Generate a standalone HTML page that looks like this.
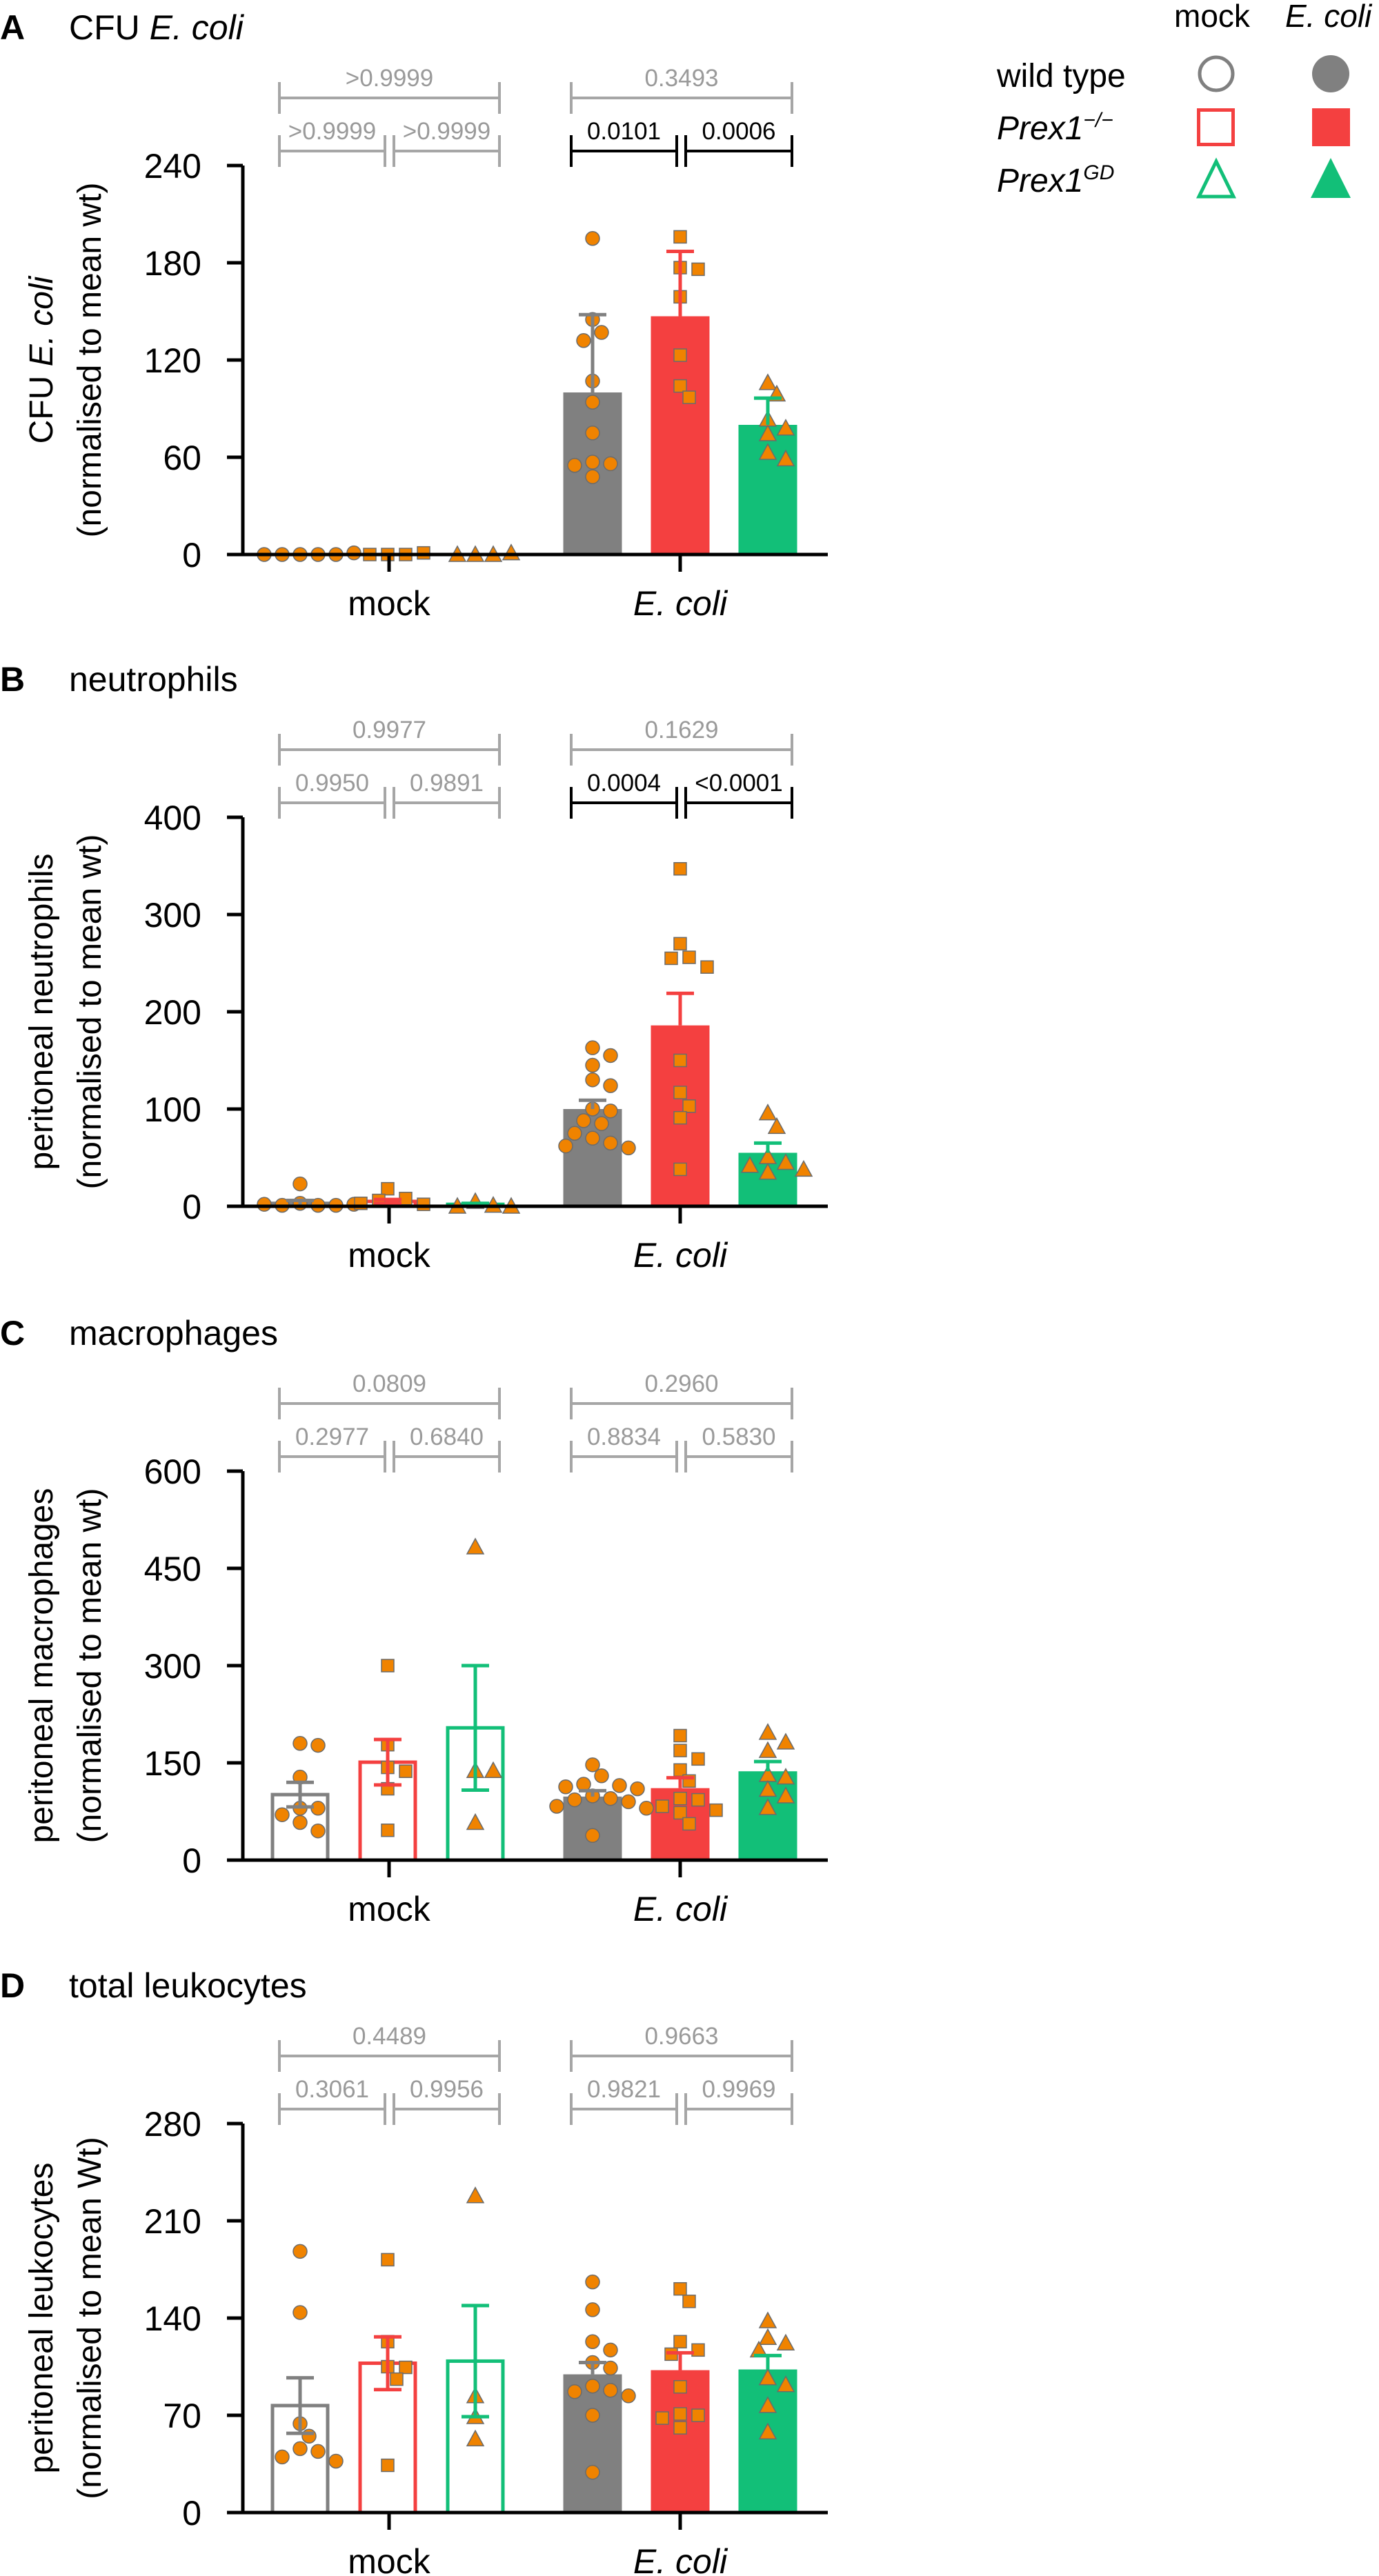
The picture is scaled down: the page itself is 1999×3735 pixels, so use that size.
<!DOCTYPE html>
<html><head><meta charset="utf-8"><style>
html,body{margin:0;padding:0;background:#fff}
svg{display:block;font-family:"Liberation Sans",sans-serif}
</style></head><body>
<svg id="fig" width="1999" height="3735" viewBox="0 0 1999 3735">
<g>
<text x="1702" y="39" font-size="46">mock</text>
<text x="1863" y="39" font-size="46" font-style="italic">E. coli</text>
<text x="1445" y="126" font-size="48">wild type</text>
<text x="1445" y="202" font-size="48" font-style="italic">Prex1<tspan dy="-18" font-size="30">−/−</tspan></text>
<text x="1445" y="278" font-size="48" font-style="italic">Prex1<tspan dy="-18" font-size="30">GD</tspan></text>
<circle cx="1763" cy="107" r="24" fill="#fff" stroke="#808080" stroke-width="5"/>
<circle cx="1929" cy="107" r="27" fill="#808080"/>
<rect x="1737.5" y="159.5" width="50" height="50" fill="#fff" stroke="#f44040" stroke-width="5"/>
<rect x="1902" y="157" width="55" height="55" fill="#f44040"/>
<polygon points="1763,234 1738,285 1788,285" fill="#fff" stroke="#12bf78" stroke-width="5"/>
<polygon points="1929,229 1900,287 1958,287" fill="#12bf78"/>
</g>
</svg>
<script>
// ---- data ----
const groupLabels = ['mock', 'E. coli'];
const genotypes = ['wild type', 'Prex1-/-', 'Prex1GD'];

const cfuTicks = [0, 60, 120, 180, 240];
const cfuMeans = [0, 0, 0, 100, 147, 80];
const cfuSem = [0, 0, 0, 48, 40, 16.5];
const cfuPoints = [
  [0, 0, 0, 0, 0, 1],
  [0, 0, 0, 1],
  [0, 0, 0, 1],
  [195, 145, 137, 132, 107, 94, 75, 57, 56, 55, 48],
  [196, 177, 176, 159, 123, 104, 97],
  [106, 99, 83.5, 78, 74.5, 63, 59]
];
const cfuP = ['>0.9999', '>0.9999', '>0.9999', '0.3493', '0.0101', '0.0006'];

const neuTicks = [0, 100, 200, 300, 400];
const neuMeans = [3, 5, 2, 100, 186, 55];
const neuSem = [3, 2, 1, 9, 33, 10];
const neuPoints = [
  [23, 3, 1, 1, 1, 2, 2],
  [18, 8, 6, 3, 2],
  [5, 1, 0, 0],
  [163, 155, 145, 130, 124, 100, 98, 88, 85, 75, 70, 65, 62, 60],
  [347, 270, 256, 255, 246, 150, 117, 103, 91, 38],
  [96, 82, 51, 45, 42, 38, 35]
];
const neuP = ['0.9977', '0.9950', '0.9891', '0.1629', '0.0004', '<0.0001'];

const macTicks = [0, 150, 300, 450, 600];
const macMeans = [101, 151, 204, 98, 111, 137];
const macSem = [19, 35, 96, 9, 16, 15];
const macPoints = [
  [180, 177, 128, 80, 80, 70, 58, 45],
  [300, 178, 143, 137, 110, 46],
  [483, 138, 138, 58],
  [147, 130, 117, 115, 113, 110, 99, 95, 93, 90, 83, 80, 38],
  [192, 169, 156, 139, 122, 95, 93, 83, 77, 73, 56],
  [197, 182, 169, 132, 128, 109, 99, 81]
];
const macP = ['0.0809', '0.2977', '0.6840', '0.2960', '0.8834', '0.5830'];

const leuTicks = [0, 70, 140, 210, 280];
const leuMeans = [77, 107.5, 109, 99.5, 102.5, 103];
const leuSem = [20, 19, 40, 8.5, 12.5, 10];
const leuPoints = [
  [188, 144, 64, 55, 46, 44, 40, 37],
  [182, 123, 105, 104.5, 96, 34],
  [228, 84, 69, 53],
  [166, 146, 123, 117, 108, 104, 91, 88, 87, 84, 70, 29],
  [161, 152, 123, 117, 114, 90.5, 71, 70, 68, 61],
  [138, 126, 122, 117, 97, 92, 77, 58]
];
const leuP = ['0.4489', '0.3061', '0.9956', '0.9663', '0.9821', '0.9969'];

// ---- drawing ----
const NS = 'http://www.w3.org/2000/svg';
const svg = document.getElementById('fig');
const colors = ['#808080', '#f44040', '#12bf78'];
const GREY = '#a6a6a6';
const centers = [435, 562, 689, 859, 986, 1113];
const groupCenters = [564, 986];
const BW = 85;
const AX = 352;
const PH = 564;

function mk(tag, attrs, parent) {
  const e = document.createElementNS(NS, tag);
  for (const k in attrs) e.setAttribute(k, attrs[k]);
  parent.appendChild(e);
  return e;
}

function marker(shape, x, y, parent) {
  let e;
  if (shape === 0) e = mk('circle', {cx: x, cy: y, r: 10}, parent);
  else if (shape === 1) e = mk('rect', {x: x - 9, y: y - 9, width: 18, height: 18}, parent);
  else e = mk('polygon', {points: `${x},${y - 12} ${x - 12},${y + 10} ${x + 12},${y + 10}`}, parent);
  e.setAttribute('fill', '#f08300');
  e.setAttribute('stroke', '#6b6b6b');
  e.setAttribute('stroke-width', '1.5');
  
  
}

function drawPanel(cfg) {
  const top = cfg.top, zero = top + PH;
  const maxV = cfg.ticks[cfg.ticks.length - 1];
  const y = v => zero - v / maxV * PH;
  const g = mk('g', {}, svg);
  
  

  // title
  const t = mk('text', {x: 0, y: top - 183, 'font-size': 50}, g);
  
  
  const tl = mk('tspan', {'font-weight': 'bold'}, t); tl.textContent = cfg.letter;
  const tt = mk('tspan', {x: 100}, t); tt.textContent = cfg.title;
  if (cfg.titleItalic) { const ti = mk('tspan', {'font-style': 'italic'}, t); ti.textContent = cfg.titleItalic; }

  // y label
  const cy = top + PH / 2;
  const l1 = mk('text', {x: 76, y: cy, transform: `rotate(-90 76 ${cy})`, 'text-anchor': 'middle', 'font-size': 48}, g);
  
  
  const s1 = mk('tspan', {}, l1); s1.textContent = cfg.ylab1;
  if (cfg.ylab1i) { const s2 = mk('tspan', {'font-style': 'italic'}, l1); s2.textContent = cfg.ylab1i; }
  const l2 = mk('text', {x: 146, y: cy, transform: `rotate(-90 146 ${cy})`, 'text-anchor': 'middle', 'font-size': 48}, g);
  
  
  l2.textContent = cfg.ylab2;

  // bars
  for (let i = 0; i < 6; i++) {
    const open = i < 3;
    const h = zero - y(cfg.means[i]);
    const b = mk('rect', open
      ? {x: centers[i] - BW / 2 + 2.5, y: y(cfg.means[i]), width: BW - 5, height: Math.max(h, 0.01), fill: '#fff', stroke: colors[i % 3], 'stroke-width': 5}
      : {x: centers[i] - BW / 2, y: y(cfg.means[i]), width: BW, height: h, fill: colors[i % 3]}, g);
    
    
  }
  // points
  for (let i = 0; i < 6; i++) {
    const placed = [];
    const step = 13;
    cfg.points[i].forEach(v => {
      const py = y(v);
      let px = centers[i];
      for (let k = 0; k < 12; k++) {
        const off = (k % 2 ? 1 : -1) * Math.ceil(k / 2) * step;
        const cx = centers[i] + off;
        if (placed.every(p => Math.hypot(p[0] - cx, p[1] - py) >= 20)) { px = cx; break; }
      }
      placed.push([px, py]);
      marker(i % 3, px, py, g);
    });
  }
  // error bars
  for (let i = 0; i < 6; i++) {
    if (cfg.sem[i] <= 0) continue;
    const open = i < 3;
    const col = colors[i % 3];
    const yt = y(cfg.means[i] + cfg.sem[i]);
    const yb = open ? y(Math.max(cfg.means[i] - cfg.sem[i], 0)) : y(cfg.means[i]);
    const e = mk('path', {d: `M${centers[i]},${yb}V${yt}M${centers[i] - 20},${yt}H${centers[i] + 20}` + (open ? `M${centers[i] - 20},${yb}H${centers[i] + 20}` : ''), stroke: col, 'stroke-width': 5, fill: 'none'}, g);
    
    
  }

  // axes
  const ax = mk('path', {d: `M${AX},${top}V${zero}M329,${zero}H1200`, stroke: '#000', 'stroke-width': 5, fill: 'none'}, g);
  
  
  cfg.ticks.forEach(v => {
    const tk = mk('line', {x1: 329, x2: AX, y1: y(v), y2: y(v), stroke: '#000', 'stroke-width': 5}, g);
    
    
    const lb = mk('text', {x: 292, y: y(v) + 18, 'text-anchor': 'end', 'font-size': 50}, g);
    
    
    lb.textContent = v;
  });
  groupLabels.forEach((lab, j) => {
    const tk = mk('line', {x1: groupCenters[j], x2: groupCenters[j], y1: zero, y2: zero + 25, stroke: '#000', 'stroke-width': 5}, g);
    
    
    const lb = mk('text', {x: groupCenters[j], y: zero + 88, 'text-anchor': 'middle', 'font-size': 50, 'font-style': j ? 'italic' : 'normal'}, g);
    
    
    lb.textContent = lab;
  });

  // brackets
  const spans = [[405, 724, 0], [405, 558, 1], [571, 724, 1], [828, 1148, 0], [828, 981, 1], [994, 1148, 1]];
  spans.forEach((s, k) => {
    const ly = s[2] ? top - 21 : top - 98;
    const pv = cfg.p[k];
    const num = parseFloat(pv.replace(/[<>]/g, ''));
    const sig = num < 0.05;
    const col = sig ? '#000' : GREY;
    const br = mk('path', {d: `M${s[0]},${ly - 23}V${ly + 23}M${s[0]},${ly}H${s[1]}M${s[1]},${ly - 23}V${ly + 23}`, stroke: col, 'stroke-width': 4, fill: 'none'}, g);
    
    
    const tx = mk('text', {x: (s[0] + s[1]) / 2, y: ly - 17, 'text-anchor': 'middle', 'font-size': 35, fill: sig ? '#000' : '#9a9a9a'}, g);
    
    
    tx.textContent = pv;
  });
}

drawPanel({name: 'panel-a-cfu', letter: 'A', title: 'CFU ', titleItalic: 'E. coli', top: 240, ticks: cfuTicks, means: cfuMeans, sem: cfuSem, points: cfuPoints, p: cfuP, ylab1: 'CFU ', ylab1i: 'E. coli', ylab2: '(normalised to mean wt)'});
drawPanel({name: 'panel-b-neutrophils', letter: 'B', title: 'neutrophils', top: 1185, ticks: neuTicks, means: neuMeans, sem: neuSem, points: neuPoints, p: neuP, ylab1: 'peritoneal neutrophils', ylab2: '(normalised to mean wt)'});
drawPanel({name: 'panel-c-macrophages', letter: 'C', title: 'macrophages', top: 2133, ticks: macTicks, means: macMeans, sem: macSem, points: macPoints, p: macP, ylab1: 'peritoneal macrophages', ylab2: '(normalised to mean wt)'});
drawPanel({name: 'panel-d-leukocytes', letter: 'D', title: 'total leukocytes', top: 3079, ticks: leuTicks, means: leuMeans, sem: leuSem, points: leuPoints, p: leuP, ylab1: 'peritoneal leukocytes', ylab2: '(normalised to mean Wt)'});
</script>
</body></html>
